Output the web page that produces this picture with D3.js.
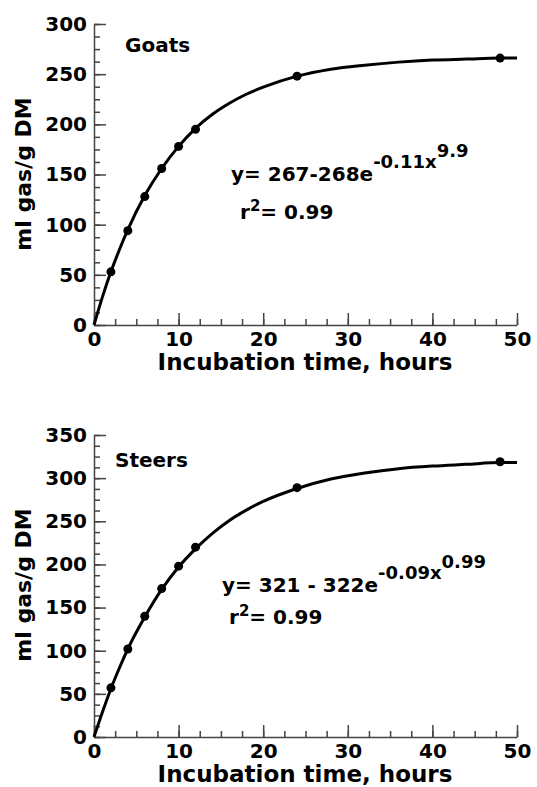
<!DOCTYPE html>
<html lang="en">
<head>
    <meta charset="UTF-8">
    <title>Gas production</title>
    <script src="https://cdn.jsdelivr.net/npm/d3@7"></script>
    <style>
        body { margin: 0; background: #fff; }
        text { font-family: "DejaVu Sans", sans-serif; font-weight: bold; fill: #000; }
        .axis path, .axis line { stroke: #444; stroke-width: 1.5; }
        .axis text { font-size: 20px; font-family: "DejaVu Sans", sans-serif; font-weight: bold; fill: #000; }
    </style>
</head>
<body>
<svg width="537" height="787"></svg>
<script>
    // measured points
    var hours = [2, 4, 6, 8, 10, 12, 24, 48];
    var goatsGas = [53, 94, 128, 156, 178, 195, 248, 266];
    var steersGas = [57, 102, 140, 172, 198, 220, 289, 319];

    // fitted curves
    var fitHours = [0, 1, 2, 3, 4, 6, 8, 10, 12, 14, 16, 18, 20, 24, 28, 32, 36, 40, 44, 48, 50];
    var goatsFit = [0, 28, 53, 75, 95, 129, 156, 178, 196, 210, 221, 230, 237, 248, 255, 259, 262, 264, 265, 266, 266];
    var steersFit = [0, 29, 56, 80, 102, 139, 171, 197, 218, 236, 251, 263, 273, 288, 299, 306, 311, 314, 316, 318, 318];

    var xTicks = [0, 10, 20, 30, 40, 50];
    var goatsYTicks = [0, 50, 100, 150, 200, 250, 300];
    var steersYTicks = [0, 50, 100, 150, 200, 250, 300, 350];

    var svg = d3.select("svg");

    function drawPanel(p) {
        var g = svg.append("g");
        var x = d3.scaleLinear().domain([0, 50]).range([94, 517]);
        var y = d3.scaleLinear().domain([0, p.yMax]).range([p.bottom, p.top]);

        // minor ticks
        g.append("g").attr("class", "axis")
            .attr("transform", "translate(0," + p.bottom + ")")
            .call(d3.axisBottom(x).tickValues(d3.range(0, 50.1, 2.5)).tickSize(-6).tickFormat(""))
            .call(function (a) { a.select(".domain").remove(); });
        g.append("g").attr("class", "axis")
            .attr("transform", "translate(94,0)")
            .call(d3.axisLeft(y).tickValues(d3.range(0, p.yMax + 0.1, 12.5)).tickSize(-6).tickFormat(""))
            .call(function (a) { a.select(".domain").remove(); });

        // major ticks
        g.append("g").attr("class", "axis")
            .attr("transform", "translate(0," + p.bottom + ")")
            .call(d3.axisBottom(x).tickValues(xTicks).tickSizeInner(-12).tickSizeOuter(0).tickPadding(7));
        g.append("g").attr("class", "axis")
            .attr("transform", "translate(94,0)")
            .call(d3.axisLeft(y).tickValues(p.yTicks).tickSizeInner(-12).tickSizeOuter(0).tickPadding(7));

        var line = d3.line()
            .x(function (d, i) { return x(fitHours[i]); })
            .y(function (d) { return y(d); })
            .curve(d3.curveMonotoneX);
        g.append("path")
            .attr("d", line(p.fit))
            .attr("fill", "none")
            .attr("stroke", "#000")
            .attr("stroke-width", 3);

        g.selectAll("circle")
            .data(p.values)
            .enter()
            .append("circle")
            .attr("cx", function (d, i) { return x(hours[i]); })
            .attr("cy", function (d) { return y(d); })
            .attr("r", 4.5)
            .attr("fill", "#000");

        g.append("text")
            .attr("x", p.nameX).attr("y", p.nameY)
            .style("font-size", "20px")
            .text(p.name);

        g.append("text")
            .attr("x", 305).attr("y", p.bottom + 45)
            .attr("text-anchor", "middle")
            .style("font-size", "23px")
            .text("Incubation time, hours");

        g.append("text")
            .attr("transform", "translate(31," + p.labelY + ") rotate(-90)")
            .attr("text-anchor", "middle")
            .style("font-size", "22px")
            .text("ml gas/g DM");

        var eq = g.append("text")
            .attr("x", p.eqX).attr("y", p.eqY)
            .style("font-size", "20px");
        eq.append("tspan").text(p.eqMain);
        eq.append("tspan").attr("dy", -13).style("font-size", "18px").text(p.eqSup);
        eq.append("tspan").attr("dy", -11).style("font-size", "18px").text(p.eqSup2);

        var r = g.append("text")
            .attr("x", p.rX).attr("y", p.rY)
            .style("font-size", "20px");
        r.append("tspan").text("r");
        r.append("tspan").attr("dy", -8).style("font-size", "15px").text("2");
        r.append("tspan").attr("dy", 8).text("= 0.99");
    }

    drawPanel({
        name: "Goats", nameX: 125, nameY: 52,
        yMax: 300, yTicks: goatsYTicks, top: 24, bottom: 325,
        values: goatsGas, fit: goatsFit, labelY: 174,
        eqMain: "y= 267-268e", eqSup: "-0.11x", eqSup2: "9.9", eqX: 231, eqY: 181,
        rX: 240, rY: 219
    });

    drawPanel({
        name: "Steers", nameX: 115, nameY: 467,
        yMax: 350, yTicks: steersYTicks, top: 435, bottom: 737,
        values: steersGas, fit: steersFit, labelY: 585,
        eqMain: "y= 321 - 322e", eqSup: "-0.09x", eqSup2: "0.99", eqX: 222, eqY: 592,
        rX: 229, rY: 624
    });
</script>
</body>
</html>
